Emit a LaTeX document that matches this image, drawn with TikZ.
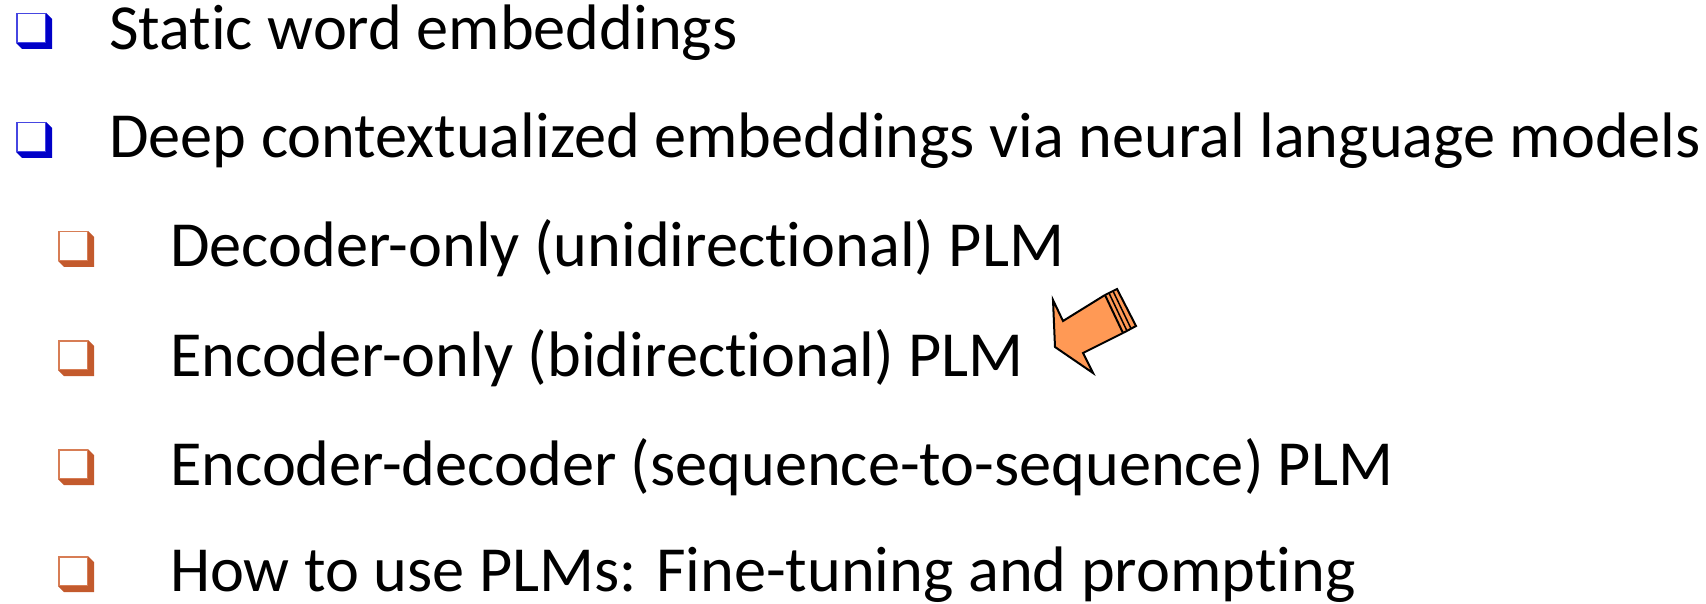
\documentclass[tikz,border=0pt]{standalone}
\usepackage{fontspec}
\setmainfont[Ligatures={NoCommon}]{Carlito}
\definecolor{bshadow}{RGB}{0,0,200}
\definecolor{bfront}{RGB}{70,70,225}
\definecolor{oshadow}{RGB}{195,90,45}
\definecolor{ofront}{RGB}{215,125,85}
\definecolor{arrowfill}{RGB}{255,153,85}
\newcommand{\qbox}[4]{% x y shadow front
  \fill[#3] (#1+30,#2) -- (#1+36,#2+6) -- (#1+36,#2+36) -- (#1+6,#2+36) -- (#1,#2+30) -- (#1+30,#2+30) -- cycle;
  \draw[#4,line width=1.5pt,fill=white] (#1+0.75,#2+0.75) rectangle (#1+29.5,#2+29.5);
}
\tikzset{
  itemtext/.style={anchor=base west,inner sep=0pt,font=\fontsize{64.3}{76}\selectfont,text=black},
  arrowline/.style={draw=black,line width=2pt,line join=miter}
}
\begin{document}
\begin{tikzpicture}[x=1pt,y=-1pt]
\useasboundingbox (0,0) rectangle (1706,604);
\qbox{16}{13}{bshadow}{bfront}
\qbox{16}{122}{bshadow}{bfront}
\qbox{58}{231}{oshadow}{ofront}
\qbox{58}{340}{oshadow}{ofront}
\qbox{58}{449}{oshadow}{ofront}
\qbox{58}{556}{oshadow}{ofront}
\node[itemtext] (t1) at (109,50) {Static word embeddings};
\node[itemtext] (t2) at (109,158) {Deep contextualized embeddings via neural language models};
\node[itemtext] (t3) at (170,267) {Decoder-only (unidirectional) PLM};
\node[itemtext] (t4) at (170,376) {Encoder-only (bidirectional) PLM};
\node[itemtext] (t5) at (170,485) {Encoder-decoder (sequence-to-sequence) PLM};
\node[itemtext] (t6) at (170,591) {How to use PLMs: Fine-tuning and prompting};
% arrow
\fill[arrowfill] (1053,300) -- (1063,321) -- (1105,295) -- (1117,289) -- (1136,326) -- (1123,333) -- (1083,353) -- (1093,373) -- (1055,347) -- cycle;
\draw[arrowline] (1105,295) -- (1063,321) -- (1053,300) -- (1055,347) -- (1093,373) -- (1083,353) -- (1123,333);
\draw[arrowline] (1105,295) -- (1123,333);
\draw[black,line width=1.5pt] (1109,293) -- (1127,331);
\draw[black,line width=1.5pt] (1113,291) -- (1131,328.5);
\draw[arrowline] (1105,295) -- (1117,289) -- (1136,326) -- (1123,333);
\end{tikzpicture}
\end{document}
